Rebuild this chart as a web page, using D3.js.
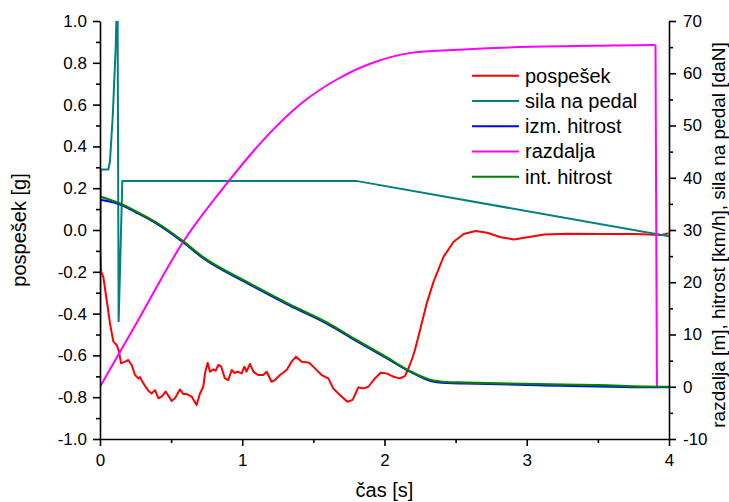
<!DOCTYPE html>
<html>
<head>
<meta charset="utf-8">
<script src="https://cdn.jsdelivr.net/npm/d3@7"></script>
<style>
  body { margin: 0; background: #fff; }
  text { font-family: "Liberation Sans", Arial, sans-serif; fill: #000; }
</style>
</head>
<body>
<div id="container"></div>
<script>
// time [s] / value pairs
const pospesek = [[0,-0.08],[0.008,-0.2],[0.023,-0.223],[0.047,-0.335],[0.07,-0.446],[0.094,-0.534],[0.117,-0.55],[0.134,-0.582],[0.148,-0.638],[0.176,-0.63],[0.199,-0.622],[0.223,-0.646],[0.246,-0.694],[0.27,-0.71],[0.281,-0.704],[0.305,-0.734],[0.34,-0.769],[0.363,-0.782],[0.387,-0.766],[0.41,-0.805],[0.434,-0.797],[0.461,-0.773],[0.485,-0.797],[0.503,-0.818],[0.527,-0.805],[0.562,-0.763],[0.586,-0.785],[0.609,-0.785],[0.644,-0.797],[0.679,-0.837],[0.703,-0.782],[0.726,-0.75],[0.738,-0.686],[0.757,-0.635],[0.773,-0.678],[0.797,-0.667],[0.813,-0.673],[0.832,-0.646],[0.851,-0.651],[0.878,-0.71],[0.902,-0.718],[0.926,-0.67],[0.944,-0.684],[0.968,-0.678],[0.996,-0.686],[1.015,-0.654],[1.03,-0.678],[1.054,-0.641],[1.078,-0.678],[1.113,-0.694],[1.148,-0.694],[1.172,-0.678],[1.206,-0.726],[1.23,-0.718],[1.265,-0.694],[1.312,-0.67],[1.347,-0.63],[1.378,-0.606],[1.418,-0.63],[1.471,-0.635],[1.511,-0.662],[1.558,-0.694],[1.605,-0.71],[1.64,-0.758],[1.687,-0.79],[1.739,-0.822],[1.776,-0.813],[1.816,-0.753],[1.851,-0.758],[1.886,-0.75],[1.933,-0.71],[1.973,-0.683],[2.015,-0.686],[2.062,-0.702],[2.109,-0.71],[2.144,-0.699],[2.168,-0.662],[2.191,-0.622],[2.214,-0.574],[2.25,-0.478],[2.297,-0.351],[2.345,-0.247],[2.415,-0.128],[2.486,-0.056],[2.557,-0.019],[2.64,-0.005],[2.722,-0.013],[2.817,-0.035],[2.91,-0.045],[3.005,-0.035],[3.123,-0.022],[3.288,-0.018],[3.524,-0.019],[3.76,-0.019],[3.948,-0.024],[3.997,-0.016]];

const silaNaPedal = [[0,2.5],[0.005,41.6],[0.058,41.6],[0.07,43.1],[0.09,52],[0.11,64.8],[0.123,78],[0.131,12.4],[0.157,39.4],[1.8,39.4],[4.0,28.8]];

const izmHitrost = [[0,35.8],[0.128,35.0],[0.257,33.3],[0.386,31.4],[0.586,27.6],[0.72,24.7],[1.03,19.9],[1.337,15.5],[1.594,12.1],[1.8,8.8],[2.005,5.6],[2.185,2.8],[2.314,1.2],[2.44,0.7],[2.57,0.6],[3.08,0.3],[3.93,-0.1],[4.0,-0.1]];

const razdalja = [[0,0],[0.257,12.2],[0.586,27.8],[0.9,39.2],[1.157,47.5],[1.414,54.2],[1.671,58.9],[1.928,62.1],[2.185,63.9],[2.44,64.4],[2.83,64.9],[3.34,65.2],[3.905,65.4]];
const razdaljaDrop = [[3.905,65.4],[3.915,0]];

const intHitrost = [[0,36.4],[0.128,35.2],[0.257,33.5],[0.386,31.6],[0.586,27.8],[0.72,24.9],[1.03,20.1],[1.337,15.7],[1.594,12.3],[1.8,9.0],[2.005,5.8],[2.185,2.9],[2.314,1.4],[2.44,0.9],[2.57,0.8],[3.08,0.5],[3.5,0.3],[3.93,0.0],[4.0,0.0]];

const xTicks = [0, 1, 2, 3, 4];
const xMinor = [0.5, 1.5, 2.5, 3.5];
const leftTicks = [-1.0, -0.8, -0.6, -0.4, -0.2, 0.0, 0.2, 0.4, 0.6, 0.8, 1.0];
const leftMinor = [-0.9, -0.7, -0.5, -0.3, -0.1, 0.1, 0.3, 0.5, 0.7, 0.9];
const rightTicks = [-10, 0, 10, 20, 30, 40, 50, 60, 70];
const rightMinor = [-5, 5, 15, 25, 35, 45, 55, 65];

const legendNames = ["pospešek", "sila na pedal", "izm. hitrost", "razdalja", "int. hitrost"];
const colors = ["#ff0000", "#008080", "#0000ff", "#ff00ff", "#008000"];

const width = 729, height = 502;
const margin = {left: 100, right: 60, top: 21, bottom: 63};

const svg = d3.select("#container").append("svg")
  .attr("width", width)
  .attr("height", height);

svg.append("rect").attr("width", width).attr("height", height).attr("fill", "#fff");

const x = d3.scaleLinear().domain([0, 4]).range([margin.left, width - margin.right]);
const yL = d3.scaleLinear().domain([-1, 1]).range([height - margin.bottom, margin.top]);
const yR = d3.scaleLinear().domain([-10, 70]).range([height - margin.bottom, margin.top]);

svg.append("defs").append("clipPath").attr("id", "plot")
  .append("rect")
  .attr("x", margin.left).attr("y", margin.top)
  .attr("width", x(4) - x(0)).attr("height", yL(-1) - yL(1));

const lineL = d3.line().x(d => x(d[0])).y(d => yL(d[1]));
const lineR = d3.line().x(d => x(d[0])).y(d => yR(d[1]));
const smoothR = d3.line().x(d => x(d[0])).y(d => yR(d[1])).curve(d3.curveMonotoneX);

const plot = svg.append("g").attr("clip-path", "url(#plot)").attr("fill", "none").attr("stroke-width", 2);

plot.append("path").attr("d", lineL(pospesek)).attr("stroke", colors[0]).attr("stroke-linejoin", "round");
plot.append("path").attr("d", lineR(silaNaPedal)).attr("stroke", colors[1]);
plot.append("path").attr("d", smoothR(izmHitrost)).attr("stroke", colors[2]);
plot.append("path").attr("d", smoothR(razdalja)).attr("stroke", colors[3]);
plot.append("path").attr("d", lineR(razdaljaDrop)).attr("stroke", colors[3]);
plot.append("path").attr("d", smoothR(intHitrost)).attr("stroke", colors[4]).attr("stroke-width", 2.2);

// axes
function styleAxis(g) {
  g.selectAll(".domain").attr("stroke-width", 1.6);
  g.selectAll(".tick line").attr("stroke-width", 1.6);
  g.selectAll("text").style("font-size", "17px").style("font-family", "'Liberation Sans', Arial, sans-serif");
}

const gx = svg.append("g").attr("transform", `translate(0,${yL(-1)})`)
  .call(d3.axisBottom(x).tickValues(xTicks).tickSize(7).tickSizeOuter(0).tickPadding(8).tickFormat(d3.format("d")));
styleAxis(gx);
svg.append("g").attr("transform", `translate(0,${yL(-1)})`)
  .call(d3.axisBottom(x).tickValues(xMinor).tickSize(4).tickFormat(""))
  .call(g => g.select(".domain").remove())
  .call(styleAxis);

const gl = svg.append("g").attr("transform", `translate(${x(0)},0)`)
  .call(d3.axisLeft(yL).tickValues(leftTicks).tickSize(7).tickSizeOuter(0).tickPadding(6).tickFormat(d => d.toFixed(1)));
styleAxis(gl);
svg.append("g").attr("transform", `translate(${x(0)},0)`)
  .call(d3.axisLeft(yL).tickValues(leftMinor).tickSize(4).tickFormat(""))
  .call(g => g.select(".domain").remove())
  .call(styleAxis);

const gr = svg.append("g").attr("transform", `translate(${x(4)},0)`)
  .call(d3.axisRight(yR).tickValues(rightTicks).tickSize(7).tickSizeOuter(0).tickPadding(7).tickFormat(d => String(d)));
styleAxis(gr);
svg.append("g").attr("transform", `translate(${x(4)},0)`)
  .call(d3.axisRight(yR).tickValues(rightMinor).tickSize(4).tickFormat(""))
  .call(g => g.select(".domain").remove())
  .call(styleAxis);

// axis titles
svg.append("text")
  .attr("x", (x(0) + x(4)) / 2).attr("y", 497)
  .attr("text-anchor", "middle").style("font-size", "20px")
  .text("čas [s]");

svg.append("text")
  .attr("transform", `translate(26,${(yL(-1) + yL(1)) / 2}) rotate(-90)`)
  .attr("text-anchor", "middle").style("font-size", "20px")
  .text("pospešek [g]");

svg.append("text")
  .attr("transform", `translate(725,${(yL(-1) + yL(1)) / 2 + 5}) rotate(-90)`)
  .attr("text-anchor", "middle").style("font-size", "19px")
  .text("razdalja [m], hitrost [km/h], sila na pedal [daN]");

// legend
const legend = svg.append("g");
legendNames.forEach((name, i) => {
  const ly = 75.7 + i * 25.25;
  legend.append("line")
    .attr("x1", 472).attr("x2", 519)
    .attr("y1", ly).attr("y2", ly)
    .attr("stroke", colors[i]).attr("stroke-width", 2);
  legend.append("text")
    .attr("x", 525).attr("y", ly).attr("dy", "0.35em")
    .style("font-size", "20px")
    .text(name);
});
</script>
</body>
</html>
